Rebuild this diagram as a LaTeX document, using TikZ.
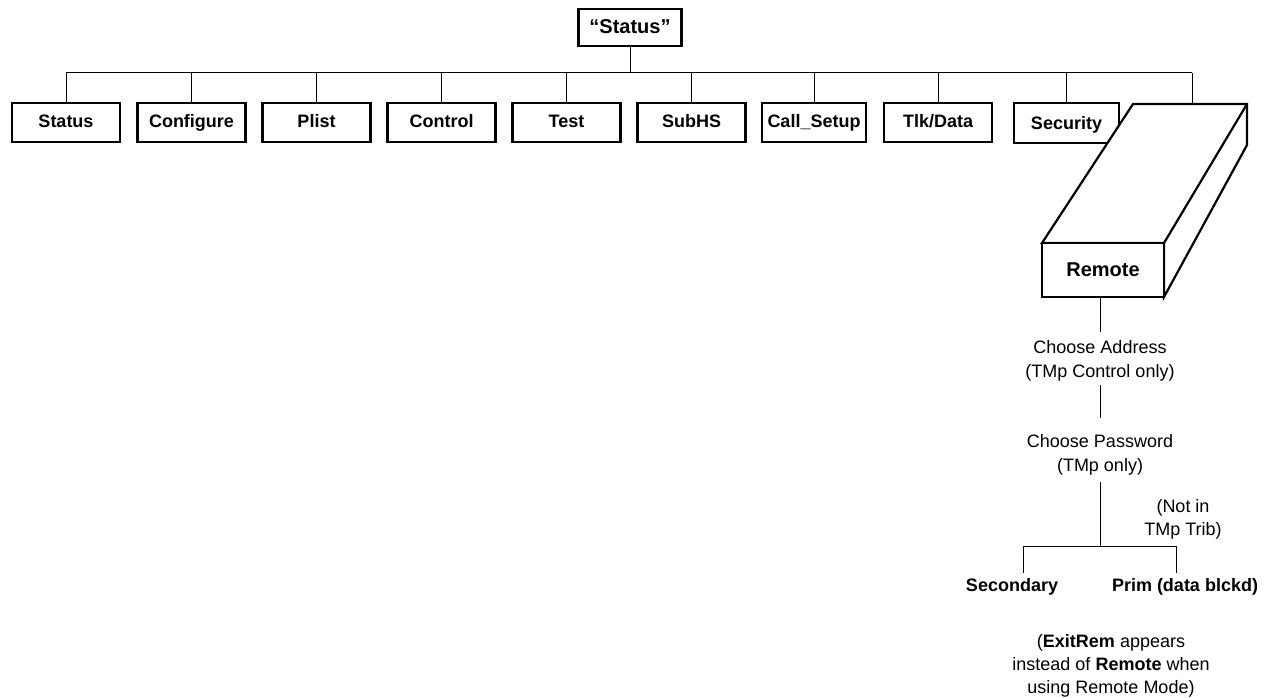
\documentclass[tikz,border=0pt]{standalone}
\usepackage{fontspec}
\setmainfont{Liberation Sans}
\begin{document}
\begin{tikzpicture}[x=1pt,y=-1pt,
  box/.style={draw, line width=2.2pt, fill=white, minimum width=108pt, minimum height=39pt, inner sep=0pt, text height=13pt, text depth=2pt, font=\bfseries\fontsize{18}{21}\selectfont},
  conn/.style={line width=1pt},
  face/.style={line width=2.2pt, line join=miter},
  lbl/.style={inner sep=0pt, align=center, font=\fontsize{18}{23}\selectfont},
  blbl/.style={inner sep=0pt, font=\bfseries\fontsize{18}{21}\selectfont}]
\useasboundingbox (0,0) rectangle (1268,698);

% top
\node[box, minimum width=103pt, minimum height=37pt, text height=14pt, font=\bfseries\fontsize{20}{24}\selectfont] (top) at (630,27.5) {“Status”};
\coordinate (bus) at (0,73);

% second row
\node[box] (b1) at (66,122.5) {Status};
\node[box] (b2) at (191.5,122.5) {Configure};
\node[box] (b3) at (316.5,122.5) {Plist};
\node[box] (b4) at (441.5,122.5) {Control};
\node[box] (b5) at (566.5,122.5) {Test};
\node[box] (b6) at (691.5,122.5) {SubHS};
\node[box, minimum width=104pt] (b7) at (814,122.5) {Call\_Setup};
\node[box] (b8) at (938,122.5) {Tlk/Data};
\node[box, minimum width=105pt, minimum height=40pt, text depth=-2pt] (b9) at (1066.5,123) {Security};

% remote 3d block
\coordinate (rtop) at (1192,104);
\coordinate (f1) at (1042,243);
\coordinate (f2) at (1164,243);
\coordinate (f3) at (1164,297);
\coordinate (t1) at (1133,104);
\coordinate (t2) at (1247,104);
\coordinate (t3) at (1247,145);
\draw[face, fill=white] (f1) -- (t1) -- (t2) -- (t3) -- (f3) -- (f2) -- cycle;
\draw[face] (f2) -- (t2);
\node[box, minimum width=122pt, minimum height=54pt, text height=14pt, font=\bfseries\fontsize{20}{24}\selectfont] (remote) at (1103,270) {Remote};

% bus
\draw[conn] (top.south) -- (top.south |- bus);
\draw[conn] (b1.north |- bus) -- (rtop |- bus);
\foreach \b in {b1,b2,b3,b4,b5,b6,b7,b8,b9} \draw[conn] (\b.north) -- (\b.north |- bus);
\draw[conn] (rtop |- bus) -- (rtop);

% lower chain
\node[lbl, font=\fontsize{18}{24}\selectfont] (addr) at (1100,360.5) {Choose Address\\(TMp Control only)};
\node[lbl, font=\fontsize{18}{24}\selectfont] (pw) at (1100,454.5) {Choose Password\\(TMp only)};
\node[lbl] (notin) at (1183,519) {(Not in\\TMp Trib)};
\draw[conn] (remote.south -| addr.north) -- ([yshift=8pt]addr.north);
\draw[conn] ([yshift=-4pt]addr.south) -- ([yshift=16pt]pw.north);

\coordinate (jl) at (1023,546);
\coordinate (jr) at (1176,546);
\node[blbl, anchor=base] (sec) at (1012,591) {Secondary};
\node[blbl, anchor=base] (prim) at (1185,591) {Prim (data blckd)};
\draw[conn] ([yshift=-7pt]pw.south) -- (pw.south |- jl);
\draw[conn] (jl) -- (jr);
\draw[conn] (jl) -- ([yshift=5pt]jl |- sec.north);
\draw[conn] (jr) -- ([yshift=5pt]jr |- prim.north);

\node[lbl] (note) at (1111,665.5) {(\textbf{ExitRem} appears\\instead of \textbf{Remote} when\\using Remote Mode)};
\end{tikzpicture}
\end{document}
